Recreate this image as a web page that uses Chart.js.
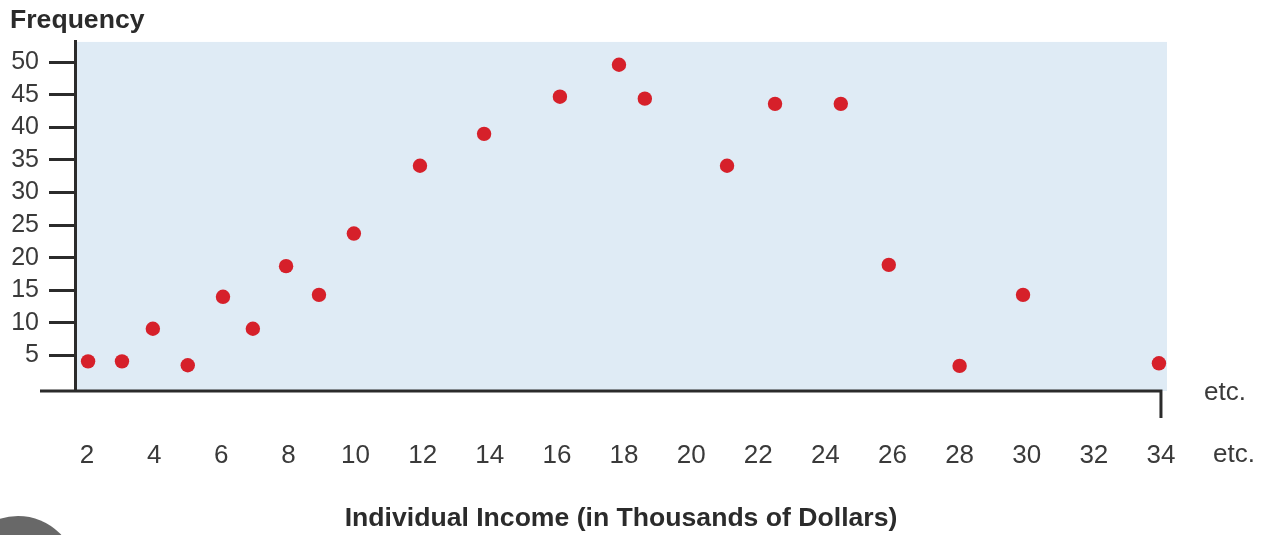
<!DOCTYPE html>
<html>
<head>
<meta charset="utf-8">
<title>Individual Income Frequency</title>
<script src="https://cdn.jsdelivr.net/npm/chart.js@4"></script>
<style>
  html, body { margin: 0; padding: 0; background: #ffffff; }
  #wrap { width: 1261px; height: 535px; position: relative; }
</style>
</head>
<body>
<div id="wrap"><canvas id="incomeChart"></canvas></div>
<script>
// Data
const incomeValues = [2.03, 3.04, 3.96, 5.0, 6.05, 6.94, 7.93, 8.91, 9.95, 11.92, 13.83,
                      16.09, 17.85, 18.62, 21.07, 22.5, 24.46, 25.89, 28.0, 29.89, 33.94];
const frequencyValues = [4.1, 4.1, 9.1, 3.5, 14.0, 9.1, 18.7, 14.3, 23.7, 34.1, 39.0,
                         44.7, 49.6, 44.4, 34.1, 43.6, 43.6, 18.9, 3.4, 14.3, 3.8];

// Tick labels
const xTicks = [2, 4, 6, 8, 10, 12, 14, 16, 18, 20, 22, 24, 26, 28, 30, 32, 34];
const yTicks = [5, 10, 15, 20, 25, 30, 35, 40, 45, 50];

const yTitle = 'Frequency';
const xTitle = 'Individual Income (in Thousands of Dollars)';
const etcLabel = 'etc.';

const FONT = '"Liberation Sans", Arial, Helvetica, sans-serif';
const INK = '#2b2b2b';
const TEXT = '#3a3a3a';

Chart.defaults.font.family = FONT;

// Light blue plot background, extended x axis line, end tick, "etc." labels
const decorPlugin = {
    id: 'decor',
    beforeDraw(chart) {
        const { ctx, chartArea } = chart;
        ctx.save();
        ctx.fillStyle = '#dfebf5';
        ctx.fillRect(chartArea.left, chartArea.top, chartArea.right - chartArea.left, chartArea.bottom - chartArea.top);
        ctx.restore();
    },
    afterDraw(chart) {
        const { ctx, chartArea } = chart;
        const xScale = chart.scales.x;
        const endX = xScale.getPixelForValue(xTicks[xTicks.length - 1]);
        const axisY = chartArea.bottom;

        ctx.save();
        ctx.strokeStyle = INK;
        ctx.lineWidth = 3;
        ctx.beginPath();
        ctx.moveTo(40, axisY);
        ctx.lineTo(endX, axisY);
        ctx.lineTo(endX, axisY + 27);
        ctx.stroke();

        ctx.fillStyle = TEXT;
        ctx.font = '26px ' + FONT;
        ctx.textAlign = 'left';
        ctx.textBaseline = 'middle';
        ctx.fillText(etcLabel, endX + 43, axisY + 2);
        ctx.fillText(etcLabel, endX + 52, axisY + 64);

        // grey round button peeking in at the bottom-left corner
        ctx.fillStyle = '#686868';
        ctx.beginPath();
        ctx.arc(18, 575, 59, 0, Math.PI * 2);
        ctx.fill();
        ctx.restore();
    }
};

const ctx = document.getElementById('incomeChart').getContext('2d');
const incomeChart = new Chart(ctx, {
    type: 'scatter',
    data: {
        datasets: [{
            label: yTitle,
            data: incomeValues.map((x, i) => ({ x: x, y: frequencyValues[i] })),
            backgroundColor: '#d6202a',
            borderWidth: 0,
            pointRadius: 7.2,
            pointHoverRadius: 7.2
        }]
    },
    options: {
        responsive: true,
        maintainAspectRatio: false,
        animation: false,
        layout: { padding: { left: 10, right: 94, top: 0, bottom: 0 } },
        plugins: {
            legend: { display: false },
            tooltip: { enabled: false },
            title: {
                display: true,
                text: yTitle,
                align: 'start',
                color: INK,
                font: { size: 26.6, weight: 'bold' },
                padding: { top: 5, bottom: 5 }
            }
        },
        scales: {
            x: {
                type: 'linear',
                min: 1.64,
                max: 34.18,
                afterBuildTicks: s => { s.ticks = xTicks.map(v => ({ value: v })); },
                afterFit: s => { s.height = 144; },
                grid: { display: false, drawTicks: false },
                border: { display: false },
                ticks: { padding: 49, color: TEXT, maxRotation: 0, autoSkip: false, font: { size: 26 } },
                title: {
                    display: true,
                    text: xTitle,
                    color: INK,
                    font: { size: 26.6, weight: 'bold' },
                    padding: { top: 0, bottom: 0 }
                }
            },
            y: {
                type: 'linear',
                min: -0.45,
                max: 53.1,
                afterBuildTicks: s => { s.ticks = yTicks.map(v => ({ value: v })); },
                afterFit: s => { s.width = 65; },
                grid: { drawOnChartArea: false, drawTicks: true, tickLength: 26, tickColor: INK, tickWidth: 3 },
                border: { display: true, color: INK, width: 3 },
                ticks: { padding: 10, color: TEXT, font: { size: 25 } }
            }
        }
    },
    plugins: [decorPlugin]
});
</script>
</body>
</html>
